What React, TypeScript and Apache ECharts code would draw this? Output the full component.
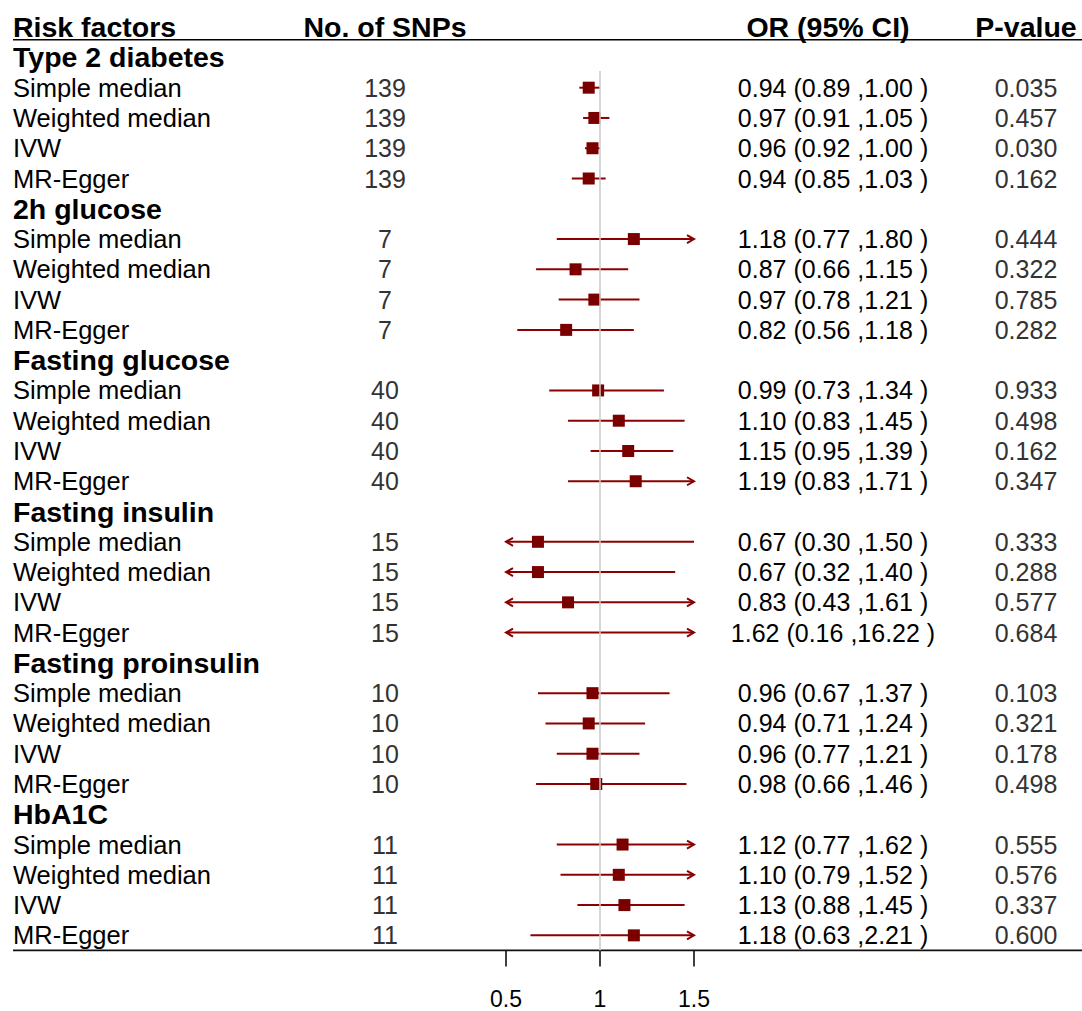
import React, { useEffect, useRef } from "react";
import * as echarts from "echarts";

const groups = ["Type 2 diabetes", "2h glucose", "Fasting glucose", "Fasting insulin", "Fasting proinsulin", "HbA1C"];
const methods = ["Simple median", "Weighted median", "IVW", "MR-Egger"];
const snps = [139, 7, 40, 15, 10, 11];
const orVals = [
  [0.94, 0.97, 0.96, 0.94],
  [1.18, 0.87, 0.97, 0.82],
  [0.99, 1.10, 1.15, 1.19],
  [0.67, 0.67, 0.83, 1.62],
  [0.96, 0.94, 0.96, 0.98],
  [1.12, 1.10, 1.13, 1.18],
];
const loVals = [
  [0.89, 0.91, 0.92, 0.85],
  [0.77, 0.66, 0.78, 0.56],
  [0.73, 0.83, 0.95, 0.83],
  [0.30, 0.32, 0.43, 0.16],
  [0.67, 0.71, 0.77, 0.66],
  [0.77, 0.79, 0.88, 0.63],
];
const hiVals = [
  [1.00, 1.05, 1.00, 1.03],
  [1.80, 1.15, 1.21, 1.18],
  [1.34, 1.45, 1.39, 1.71],
  [1.50, 1.40, 1.61, 16.22],
  [1.37, 1.24, 1.21, 1.46],
  [1.62, 1.52, 1.45, 2.21],
];
const pVals = [
  ["0.035", "0.457", "0.030", "0.162"],
  ["0.444", "0.322", "0.785", "0.282"],
  ["0.933", "0.498", "0.162", "0.347"],
  ["0.333", "0.288", "0.577", "0.684"],
  ["0.103", "0.321", "0.178", "0.498"],
  ["0.555", "0.576", "0.337", "0.600"],
];
const headers = ["Risk factors", "No. of SNPs", "OR (95% CI)", "P-value"];
const xTicks = [0.5, 1, 1.5];

const FONT = "'Liberation Sans', Arial, sans-serif";
const AXMIN = 0.5;
const AXMAX = 1.5;

export default function App() {
  const ref = useRef<HTMLDivElement>(null);
  useEffect(() => {
    if (!ref.current) return;
    const chart = echarts.init(ref.current, null, { renderer: "svg" });

    const textRows: any[] = [];
    const colX = { label: 13, snp: 385, or: 833, p: 1026 };
    textRows.push([colX.label, 0, headers[0], "header-left"]);
    textRows.push([colX.snp, 0, headers[1], "header"]);
    textRows.push([828, 0, headers[2], "header"]);
    textRows.push([colX.p, 0, headers[3], "header"]);
    const forest: any[] = [];
    let row = 1;
    groups.forEach((g, gi) => {
      textRows.push([colX.label, row, g, "group"]);
      row++;
      methods.forEach((m, mi) => {
        const o = orVals[gi][mi];
        const lo = loVals[gi][mi];
        const hi = hiVals[gi][mi];
        textRows.push([colX.label, row, m, "label"]);
        textRows.push([colX.snp, row, String(snps[gi]), "num"]);
        textRows.push([colX.or, row, `${o.toFixed(2)} (${lo.toFixed(2)} ,${hi.toFixed(2)} )`, "or"]);
        textRows.push([colX.p, row, pVals[gi][mi], "num"]);
        forest.push([row, o, lo, hi]);
        row++;
      });
    });

    const lineColor = "#8b0000";
    const boxColor = "#7a0000";

    const option: any = {
      animation: false,
      textStyle: { fontFamily: FONT },
      grid: [
        { left: 0, right: 0, top: 12, bottom: 60.5 },
        { left: 506, width: 188, top: 12, bottom: 60.5 },
      ],
      xAxis: [
        { gridIndex: 0, type: "value", min: 0, max: 1082, show: false },
        {
          gridIndex: 1,
          type: "value",
          position: "bottom",
          min: AXMIN,
          max: AXMAX,
          interval: 0.5,
          axisLine: { show: false, onZero: false },
          splitLine: { show: false },
          axisTick: { show: true, length: 16, lineStyle: { color: "#000", width: 1.5 } },
          axisLabel: {
            margin: 37,
            fontSize: 23,
            color: "#000",
            fontFamily: FONT,
            formatter: (v: number) => (xTicks.includes(v) ? String(v) : ""),
          },
        },
      ],
      yAxis: [
        { gridIndex: 0, type: "value", min: -0.5, max: 30.5, inverse: true, show: false },
        { gridIndex: 1, type: "value", min: -0.5, max: 30.5, inverse: true, show: false },
      ],
      series: [
        {
          type: "line",
          xAxisIndex: 0,
          yAxisIndex: 0,
          data: [[13, 0.42], [1082, 0.42]],
          symbol: "none",
          lineStyle: { color: "#000", width: 1.5 },
          silent: true,
        },
        {
          type: "line",
          xAxisIndex: 0,
          yAxisIndex: 0,
          data: [[13, 30.5], [1082, 30.5]],
          symbol: "none",
          lineStyle: { color: "#111", width: 2 },
          silent: true,
        },
        {
          type: "line",
          xAxisIndex: 1,
          yAxisIndex: 1,
          data: [[1, 1.45], [1, 30.5]],
          symbol: "none",
          lineStyle: { color: "#c8c8c8", width: 1.5 },
          silent: true,
        },
        {
          type: "custom",
          xAxisIndex: 0,
          yAxisIndex: 0,
          data: textRows,
          silent: true,
          renderItem: (params: any, api: any) => {
            const d = textRows[params.dataIndex];
            const p = api.coord([d[0], d[1]]);
            const kind = d[3];
            let fontSize = 25;
            let fontWeight: any = "normal";
            let fill = "#000";
            let align = "center";
            if (kind === "header-left") { fontSize = 28.5; fontWeight = "bold"; align = "left"; }
            else if (kind === "header") { fontSize = 28.5; fontWeight = "bold"; }
            else if (kind === "group") { fontSize = 28.5; fontWeight = "bold"; align = "left"; }
            else if (kind === "label") { fontSize = 25.5; align = "left"; }
            else if (kind === "num") { fill = "#333"; }
            return {
              type: "text",
              x: p[0],
              y: p[1],
              style: {
                text: d[2],
                fontSize,
                fontWeight,
                fontFamily: FONT,
                fill,
                align,
                verticalAlign: "middle",
              },
            };
          },
        },
        {
          type: "custom",
          xAxisIndex: 1,
          yAxisIndex: 1,
          data: forest,
          clip: false,
          silent: true,
          renderItem: (params: any, api: any) => {
            const d = forest[params.dataIndex];
            const r = d[0], o = d[1], lo = d[2], hi = d[3];
            const loC = Math.max(lo, AXMIN);
            const hiC = Math.min(hi, AXMAX);
            const pL = api.coord([loC, r]);
            const pR = api.coord([hiC, r]);
            const children: any[] = [];
            const ls = { stroke: lineColor, lineWidth: 2 };
            children.push({ type: "line", shape: { x1: pL[0], y1: pL[1], x2: pR[0], y2: pR[1] }, style: ls });
            if (lo < AXMIN) {
              children.push({
                type: "polyline",
                shape: { points: [[pL[0] + 7, pL[1] - 4], [pL[0], pL[1]], [pL[0] + 7, pL[1] + 4]] },
                style: { stroke: lineColor, lineWidth: 2, fill: "none" },
              });
            }
            if (hi > AXMAX) {
              children.push({
                type: "polyline",
                shape: { points: [[pR[0] - 7, pR[1] - 4], [pR[0], pR[1]], [pR[0] - 7, pR[1] + 4]] },
                style: { stroke: lineColor, lineWidth: 2, fill: "none" },
              });
            }
            if (o >= AXMIN && o <= AXMAX) {
              const c = api.coord([o, r]);
              const s = 12;
              children.push({
                type: "rect",
                shape: { x: c[0] - s / 2, y: c[1] - s / 2, width: s, height: s },
                style: { fill: boxColor },
              });
            }
            return { type: "group", children };
          },
        },
      ],
    };
    chart.setOption(option);
    return () => chart.dispose();
  }, []);
  return <div ref={ref} style={{ position: "absolute", left: 0, top: 0, width: 1082, height: 1011 }} />;
}
